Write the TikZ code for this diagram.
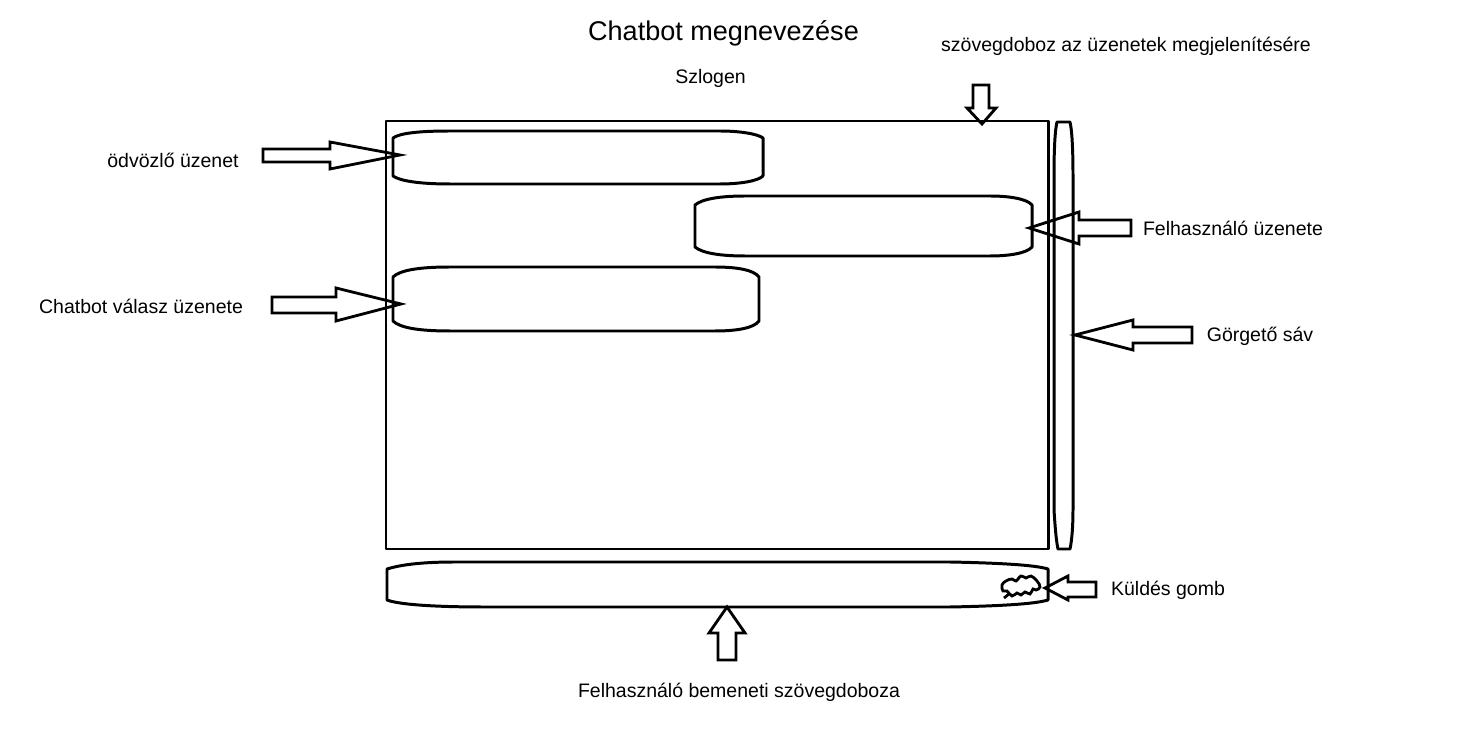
\documentclass[tikz,border=0pt]{standalone}
\usepackage{fontspec}
\setmainfont{Liberation Sans}
\tikzset{
  outline/.style={draw=black,line width=1.7pt,line join=round},
  thinarrow/.style={draw=black,line width=1.6pt,line join=miter,fill=none},
  lbl/.style={inner sep=0pt,text=black,font=\fontsize{11.1pt}{13pt}\selectfont},
}
\begin{document}
\begin{tikzpicture}[x=.02cm,y=-.02cm]
        \useasboundingbox (0,0) rectangle (1475,746);
        % texts
        \node [lbl,font=\fontsize{15.4pt}{18pt}\selectfont] (title) at (723.5,33) {Chatbot megnevezése};
        \node [lbl] (slogan) at (710.5,78) {Szlogen};
        \node [lbl] (msgbox) at (1126,46) {szövegdoboz az üzenetek megjelenítésére};
        \node [lbl] (welcome) at (173,160.5) {ödvözlő üzenet};
        \node [lbl] (reply) at (141,306) {Chatbot válasz üzenete};
        \node [lbl] (usermsg) at (1233,228) {Felhasználó üzenete};
        \node [lbl] (scroll) at (1260,336) {Görgető sáv};
        \node [lbl] (send) at (1168,590) {Küldés gomb};
        \node [lbl] (input) at (739,692) {Felhasználó bemeneti szövegdoboza};
        % window and bubbles
        \draw [outline] (386,121) rectangle (1048,549);
        \draw [outline] (393,138) .. controls (400,133) and (420,131) .. (450,131) -- (720,131)
          .. controls (740,131) and (758,134) .. (763,138) -- (763,176)
          .. controls (758,181) and (740,184) .. (720,184) -- (450,184)
          .. controls (420,184) and (400,181) .. (393,176) -- cycle;
        \draw [outline] (695,205) .. controls (702,199) and (720,196) .. (745,196) -- (990,196)
          .. controls (1010,196) and (1027,199) .. (1032,205) -- (1032,247)
          .. controls (1027,253) and (1010,256) .. (990,256) -- (745,256)
          .. controls (720,256) and (702,253) .. (695,247) -- cycle;
        \draw [outline] (393,277) .. controls (400,270) and (420,267) .. (450,267) -- (715,267)
          .. controls (737,267) and (754,270) .. (759,277) -- (759,321)
          .. controls (754,328) and (737,331) .. (715,331) -- (450,331)
          .. controls (420,331) and (400,328) .. (393,321) -- cycle;
        % scrollbar and input box
        \draw [outline] (1057,122) -- (1070,122) .. controls (1072,130) and (1073,150) .. (1073,175) -- (1073,510)
          .. controls (1073,525) and (1072,540) .. (1070,549) -- (1058,549)
          .. controls (1056,540) and (1055,525) .. (1054,510) -- (1054,175)
          .. controls (1054,150) and (1055,130) .. (1057,122) -- cycle;
        \draw [outline] (387,569) .. controls (400,565) and (420,562) .. (455,562) -- (950,562)
          .. controls (1000,563) and (1035,565) .. (1048,569) -- (1048,600)
          .. controls (1035,604) and (1000,606) .. (950,607) -- (485,607)
          .. controls (440,607) and (400,605) .. (387,600) -- cycle;
        % send button
        \draw [line width=1.6pt] plot [smooth cycle,tension=.7] coordinates {(1002,585) (1006,581) (1012,579) (1016,581) (1021,576) (1026,578) (1031,576) (1037,581) (1040,587) (1036,590) (1033,589) (1030,594) (1025,592) (1021,595) (1017,593) (1012,596) (1007,591) (1003,591)};
        \draw [line width=1.6pt] (1009,594) -- (1004,598);
        % arrows
        \draw [thinarrow] (263,149) -- (330,149) -- (330,142) -- (400,155) -- (330,169) -- (330,162) -- (263,162) -- cycle;
        \draw [thinarrow] (272,297) -- (336,297) -- (336,288) -- (401,304) -- (336,321) -- (336,313) -- (272,313) -- cycle;
        \draw [thinarrow] (1131,220) -- (1079,220) -- (1079,212) -- (1029,228) -- (1079,244) -- (1079,236) -- (1131,236) -- cycle;
        \draw [thinarrow] (1192,327) -- (1133,327) -- (1133,320) -- (1075,335) -- (1133,350) -- (1133,343) -- (1192,343) -- cycle;
        \draw [thinarrow] (1096,582) -- (1068,582) -- (1068,576) -- (1045,588) -- (1068,600) -- (1068,597) -- (1096,597) -- cycle;
        \draw [thinarrow] (973,85) -- (989,85) -- (989,108) -- (996,108) -- (982,124) -- (967,108) -- (973,108) -- cycle;
        \draw [thinarrow] (718,660) -- (736,660) -- (736,633) -- (745,633) -- (727,607) -- (709,633) -- (718,633) -- cycle;
      \end{tikzpicture}
\end{document}
